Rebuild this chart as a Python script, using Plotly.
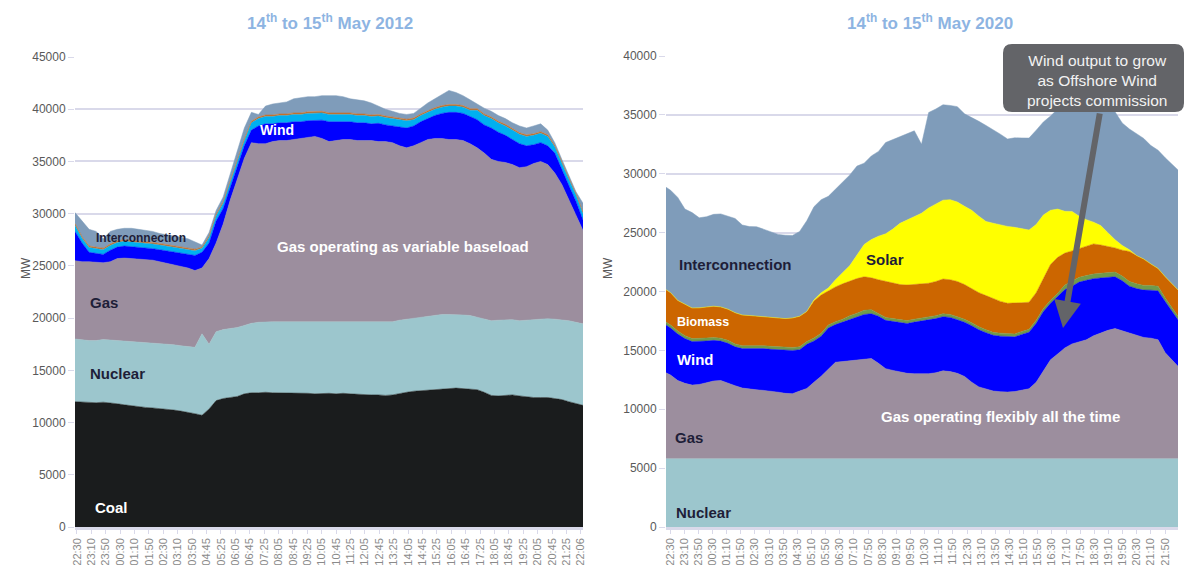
import plotly.graph_objects as go

# ---------------- DATA ----------------
times_2012 = ["21:50", "22:10", "22:30", "22:50", "23:10", "23:30", "23:50", "00:10", "00:30", "00:50",
              "01:10", "01:30", "01:50", "02:10", "02:30", "02:50", "03:10", "03:30", "03:50", "04:15",
              "04:45", "05:05", "05:25", "05:45", "06:05", "06:25", "06:45", "07:05", "07:25", "07:45",
              "08:05", "08:25", "08:45", "09:05", "09:25", "09:45", "10:05", "10:25", "10:45", "11:05",
              "11:25", "11:45", "12:05", "12:25", "12:45", "13:05", "13:25", "13:45", "14:05", "14:25",
              "14:45", "15:05", "15:25", "15:45", "16:05", "16:25", "16:45", "17:05", "17:25", "17:45",
              "18:05", "18:25", "18:45", "19:05", "19:25", "19:45", "20:05", "20:25", "20:45", "21:05",
              "21:25", "21:45", "22:06"]

coal_2012 = [12000, 11950, 11950, 11900, 11950, 11900, 11800, 11700, 11600, 11500,
             11450, 11400, 11350, 11300, 11200, 11100, 11000, 10850, 10700, 11300,
             12100, 12300, 12400, 12500, 12750, 12850, 12850, 12900, 12850, 12850,
             12800, 12800, 12850, 12800, 12750, 12800, 12800, 12750, 12800, 12750,
             12700, 12700, 12650, 12650, 12600, 12650, 12800, 12900, 13000, 13050,
             13150, 13200, 13250, 13300, 13300, 13250, 13200, 13150, 12900, 12600,
             12550, 12600, 12650, 12550, 12450, 12400, 12400, 12400, 12300, 12200,
             12000, 11800, 11650]
nuclear_2012 = [6000, 5950, 5900, 5950, 6000, 6000, 6050, 6100, 6200, 6200,
                6200, 6200, 6200, 6200, 6250, 6250, 6300, 6350, 7800, 6200,
                6600, 6600, 6600, 6600, 6550, 6650, 6750, 6750, 6800, 6800,
                6850, 6850, 6800, 6850, 6900, 6850, 6850, 6900, 6850, 6900,
                6950, 6950, 7000, 7000, 7050, 7000, 7000, 7000, 7000, 7050,
                7050, 7100, 7100, 7050, 7050, 7050, 7050, 6950, 7000, 7150,
                7250, 7250, 7200, 7200, 7350, 7500, 7550, 7550, 7600, 7650,
                7750, 7800, 7800]
gas_2012 = [7500, 7500, 7550, 7500, 7350, 7500, 7850, 7950, 7900, 7900,
            7950, 7950, 7850, 7750, 7650, 7600, 7500, 7350, 6300, 8200,
            8500, 10100, 12300, 14200, 16000, 17300, 17100, 17050, 17250, 17350,
            17350, 17450, 17550, 17650, 17750, 17550, 17250, 17350, 17450, 17450,
            17350, 17350, 17350, 17250, 17250, 17150, 16700, 16400, 16500, 16700,
            16900, 16900, 16850, 16750, 16750, 16700, 16450, 16200, 15900, 15450,
            15200, 15050, 14850, 14650, 14700, 14900, 15050, 14750, 14000, 12950,
            11550, 10300, 8950]
wind_2012 = [2800, 1800, 900, 850, 800, 1100, 1100, 1150, 1150, 1150,
             1100, 1100, 1150, 1200, 1250, 1300, 1350, 1450, 1500, 1500,
             2100, 1500, 1200, 1200, 1200, 1200, 1700, 1900, 1700, 1700,
             1700, 1700, 1600, 1600, 1500, 1750, 1900, 1800, 1650, 1700,
             1700, 1700, 1600, 1750, 1600, 1600, 1800, 1900, 1900, 2000,
             2000, 2200, 2400, 2600, 2600, 2600, 2600, 2700, 2700, 3000,
             2800, 2600, 2400, 2300, 2000, 1800, 1800, 1800, 1900, 1400,
             1400, 1300, 1000]
hydro_2012 = [600, 450, 450, 450, 450, 450, 450, 450, 450, 450,
              450, 450, 450, 450, 450, 450, 450, 450, 400, 500,
              500, 500, 500, 500, 500, 700, 700, 700, 700, 700,
              700, 700, 700, 700, 700, 700, 700, 700, 700, 700,
              700, 700, 700, 700, 700, 700, 700, 700, 600, 600,
              600, 600, 600, 600, 600, 600, 600, 900, 900, 900,
              900, 900, 900, 900, 900, 900, 900, 900, 600, 600,
              600, 600, 600]
biomass_2012 = [150, 150, 150, 150, 150, 150, 150, 150, 150, 150,
                150, 150, 150, 150, 150, 150, 150, 150, 100, 150,
                150, 150, 150, 150, 150, 150, 150, 150, 150, 150,
                150, 150, 150, 150, 150, 150, 150, 150, 150, 150,
                150, 150, 150, 150, 150, 150, 150, 150, 150, 150,
                150, 150, 150, 150, 150, 150, 150, 150, 150, 150,
                150, 150, 150, 150, 150, 150, 150, 150, 150, 150,
                150, 150, 150]
interconnection_2012 = [1050, 1500, 1600, 1500, 900, 1200, 1100, 1100, 1150, 1150,
                        1100, 1050, 950, 950, 950, 900, 850, 700, 200, 350,
                        350, 450, 650, 650, 1050, 850, 250, 850, 1050, 1050,
                        1150, 1350, 1450, 1450, 1450, 1500, 1650, 1650, 1600, 1350,
                        1350, 1250, 1150, 800, 650, 550, 450, 450, 450, 550,
                        750, 850, 1050, 1350, 1150, 950, 850, 450, 550, 550,
                        550, 550, 550, 650, 650, 750, 750, 450, 250, 250,
                        250, 150, 850]

times_2020 = ["22:10", "22:30", "22:50", "23:10", "23:30", "23:50", "00:10", "00:30", "00:50", "01:10",
              "01:30", "01:50", "02:10", "02:30", "02:50", "03:10", "03:30", "03:50", "04:10", "04:30",
              "04:50", "05:10", "05:30", "05:50", "06:10", "06:30", "06:50", "07:10", "07:30", "07:50",
              "08:10", "08:30", "08:50", "09:10", "09:30", "09:50", "10:10", "10:30", "10:50", "11:10",
              "11:30", "11:50", "12:10", "12:30", "12:50", "13:10", "13:30", "13:50", "14:10", "14:30",
              "14:50", "15:10", "15:30", "15:50", "16:10", "16:30", "16:50", "17:10", "17:30", "17:50",
              "18:10", "18:30", "18:50", "19:10", "19:30", "19:50", "20:10", "20:30", "20:50", "21:10",
              "21:30", "21:50", "22:10"]

nuclear_2020 = [5800, 5800, 5790, 5800, 5800, 5810, 5800, 5800, 5790, 5800,
                5800, 5800, 5810, 5800, 5800, 5790, 5800, 5800, 5800, 5800,
                5810, 5800, 5800, 5800, 5790, 5800, 5800, 5800, 5800, 5810,
                5800, 5800, 5800, 5790, 5800, 5800, 5800, 5800, 5800, 5810,
                5800, 5800, 5790, 5800, 5800, 5800, 5800, 5810, 5800, 5800,
                5800, 5790, 5800, 5800, 5800, 5800, 5810, 5800, 5800, 5800,
                5790, 5800, 5800, 5800, 5810, 5800, 5800, 5800, 5790, 5800,
                5800, 5800, 5800]
gas_2020 = [7400, 7100, 6650, 6400, 6250, 6300, 6450, 6600, 6650, 6450,
            6200, 6000, 5900, 5850, 5800, 5750, 5650, 5550, 5520, 5750,
            5950, 6500, 7000, 7600, 8200, 8250, 8300, 8350, 8450, 8500,
            8100, 7650, 7500, 7400, 7250, 7220, 7220, 7220, 7300, 7450,
            7400, 7250, 7000, 6500, 6100, 5900, 5750, 5680, 5660, 5700,
            5850, 5950, 6500, 7400, 8400, 8900, 9400, 9750, 9950, 10100,
            10450, 10700, 10900, 11050, 10850, 10650, 10450, 10300, 10250, 10100,
            9000, 8300, 7700]
wind_2020 = [4100, 4000, 3950, 3800, 3700, 3650, 3550, 3450, 3350, 3350,
             3300, 3350, 3450, 3500, 3550, 3550, 3600, 3650, 3680, 3500,
             3750, 3500, 3400, 3500, 3200, 3350, 3500, 3650, 3800, 3800,
             4000, 4100, 4150, 4150, 4230, 4380, 4480, 4530, 4600, 4600,
             4600, 4550, 4600, 4800, 4850, 4800, 4730, 4720, 4690, 4650,
             4700, 4800, 5000, 5100, 4800, 4900, 4950, 4900, 5050, 5050,
             4850, 4650, 4500, 4400, 4250, 4000, 4000, 4020, 4070, 4150,
             4350, 4200, 3900]
other_2020 = [250, 250, 250, 250, 250, 250, 250, 250, 250, 250,
              250, 250, 250, 250, 250, 250, 250, 250, 250, 250,
              250, 250, 250, 250, 250, 250, 350, 350, 350, 350,
              250, 250, 250, 250, 250, 250, 250, 250, 250, 250,
              250, 250, 250, 250, 250, 250, 250, 250, 250, 250,
              250, 250, 250, 250, 250, 250, 400, 400, 400, 400,
              400, 400, 400, 400, 400, 400, 400, 400, 400, 400,
              300, 300, 300]
biomass_2020 = [2750, 2750, 2600, 2650, 2600, 2600, 2650, 2650, 2650, 2650,
                2650, 2600, 2550, 2500, 2450, 2450, 2450, 2450, 2500, 2600,
                2550, 3150, 3250, 2900, 2950, 3000, 2950, 2950, 2850, 2700,
                2850, 3050, 3050, 3000, 3020, 2950, 2900, 2900, 2900, 2950,
                2950, 3000, 2950, 2900, 2900, 2900, 2870, 2700, 2600, 2600,
                2450, 2300, 2350, 2550, 3050, 3050, 2700, 2600, 2450, 2450,
                2550, 2400, 2250, 2050, 2200, 2550, 2400, 2230, 1830, 1500,
                1800, 2050, 2300]
solar_2020 = [0, 0, 0, 0, 0, 0, 0, 0, 0, 0,
              0, 0, 0, 0, 0, 0, 0, 0, 0, 0,
              0, 100, 200, 250, 600, 950, 1300, 2000, 2750, 3250,
              3700, 4050, 4550, 5200, 5550, 5800, 6000, 6400, 6550, 6700,
              6800, 6750, 6650, 6650, 6500, 6300, 6400, 6500, 6530, 6450,
              6300, 6130, 5800, 5400, 4600, 4100, 3550, 3350, 2750, 2300,
              1850, 1650, 1150, 700, 400, 150, 0, 0, 0, 0,
              0, 0, 0]
interconnection_2020 = [8700, 8700, 8750, 8100, 8100, 7650, 7650, 7800, 7900, 7900,
                        8000, 7650, 7550, 7600, 7450, 7300, 7100, 7080, 7010, 7200,
                        7700, 7900, 7900, 7780, 7700, 7700, 7700, 7550, 6900, 7100,
                        7200, 7750, 7600, 7300, 7300, 7250, 5850, 8100, 8100, 8100,
                        8000, 8100, 7850, 7900, 8050, 8150, 7950, 7700, 7420, 7600,
                        7690, 7810, 8000, 7900, 8000, 8500, 9400, 10000, 10800, 11300,
                        11300, 11200, 11200, 10800, 10400, 10250, 10350, 10250, 10050, 10050,
                        10100, 10150, 10200]

# ---------------- FIGURE ----------------
W, H = 1187, 565


def px(x):
    return x / W


def py(y):
    return 1 - y / H


FONT = "Liberation Sans, Arial, sans-serif"
GRID = "#D9D9EA"
TICKC = "#595959"
XTICKC = "#8A8A8A"

fig = go.Figure()

layers_2012 = [
    ("Coal", coal_2012, "#1A1C1D"),
    ("Nuclear", nuclear_2012, "#9CC6CD"),
    ("Gas", gas_2012, "#9C8E9E"),
    ("Wind", wind_2012, "#0000FF"),
    ("Hydro", hydro_2012, "#00B0F0"),
    ("Biomass", biomass_2012, "#C8702A"),
    ("Interconnection", interconnection_2012, "#7F9CBA"),
]
x12 = list(range(len(times_2012)))
for name, vals, col in layers_2012:
    fig.add_trace(go.Scatter(x=x12, y=vals, name=name, stackgroup="a", mode="lines",
                             line=dict(width=0.5, color=col), fillcolor=col,
                             xaxis="x", yaxis="y"))

layers_2020 = [
    ("Nuclear", nuclear_2020, "#9CC6CD"),
    ("Gas", gas_2020, "#9C8E9E"),
    ("Wind", wind_2020, "#0000FF"),
    ("Other", other_2020, "#6F9A4C"),
    ("Biomass", biomass_2020, "#CC6600"),
    ("Solar", solar_2020, "#FFFF00"),
    ("Interconnection", interconnection_2020, "#7F9CBA"),
]
x20 = list(range(len(times_2020)))
for name, vals, col in layers_2020:
    fig.add_trace(go.Scatter(x=x20, y=vals, name=name, stackgroup="b", mode="lines",
                             line=dict(width=0.5, color=col), fillcolor=col,
                             xaxis="x2", yaxis="y2"))


def spread(a, b, n):
    return [a + (b - a) * i / (n - 1) for i in range(n)]


labels_2012 = times_2012[2::2]
labels_2020 = times_2020[1::2]
# tick positions (axis units) placed evenly between the first and last label position
ticks_2012 = spread(0.28, 71.7, len(labels_2012))
ticks_2020 = spread(0.92, 69.97, len(labels_2020))

xax = dict(showgrid=False, zeroline=False, showline=True, linecolor=GRID, linewidth=2.5,
           ticks="outside", ticklen=4, tickcolor=GRID, tickangle=-90,
           tickfont=dict(size=11, color=XTICKC, family=FONT), automargin=False)
yax = dict(showgrid=True, gridcolor=GRID, gridwidth=1.5, zeroline=False, showline=False,
           ticks="outside", ticklen=6, tickcolor=GRID, dtick=5000, tickformat="d",
           tickfont=dict(size=12, color=TICKC, family=FONT), automargin=False)

fig.update_layout(
    width=W, height=565, margin=dict(l=0, r=0, t=0, b=0),
    template="none", paper_bgcolor="white", plot_bgcolor="white", showlegend=False,
    font=dict(family=FONT),
    xaxis=dict(xax, domain=[px(75), px(583)], range=[0, 72], anchor="y",
               tickvals=ticks_2012, ticktext=labels_2012),
    yaxis=dict(yax, domain=[py(527), py(57)], range=[0, 45000], anchor="x"),
    xaxis2=dict(xax, domain=[px(666), px(1178)], range=[0.36, 71.78], anchor="y2",
                tickvals=ticks_2020, ticktext=labels_2020),
    yaxis2=dict(yax, domain=[py(527), py(56)], range=[0, 40000], anchor="x2"),
)

ann = []


def label(text, x, y, size=15, color="#1E1E38", bold=True):
    ann.append(dict(text=("<b>%s</b>" % text) if bold else text, x=px(x), y=py(y),
                    xref="paper", yref="paper", showarrow=False, xanchor="center", yanchor="middle",
                    font=dict(size=size, color=color, family=FONT)))


TITLE = "#8DB4E2"
label("14<sup>th</sup> to 15<sup>th</sup> May 2012", 330, 22, 17, TITLE)
label("14<sup>th</sup> to 15<sup>th</sup> May 2020", 930, 22, 17, TITLE)

# left panel labels
label("Interconnection", 141, 238, 12)
label("Wind", 277, 130, 14, "white")
label("Gas operating as variable baseload", 403, 247, 15, "white")
label("Gas", 104, 302, 15)
label("Nuclear", 117, 373, 15)
label("Coal", 111, 507, 15, "white")

# right panel labels
label("Interconnection", 735, 264, 15)
label("Solar", 885, 259, 15)
label("Biomass", 703, 322, 12.5, "white")
label("Wind", 695, 359, 15, "white")
label("Gas operating flexibly all the time", 1001, 417, 15, "white")
label("Gas", 689, 437, 15)
label("Nuclear", 703, 512, 15)

# axis titles
for xx in (17, 608):
    ann.append(dict(text="MW", x=px(xx), y=py(268), xref="paper", yref="paper", showarrow=False,
                    textangle=-90, font=dict(size=12, color=TICKC, family=FONT)))

# callout arrow
BOX = "#636468"
ann.append(dict(text="", x=px(1063), y=py(328), xref="paper", yref="paper", showarrow=True,
                ax=37, ay=-216, arrowcolor=BOX, arrowwidth=6, arrowhead=2, arrowsize=0.9,
                standoff=0))
# callout text
ann.append(dict(text="Wind output to grow<br>as Offshore Wind<br>projects commission",
                x=px(1097), y=py(80), xref="paper", yref="paper", showarrow=False,
                xanchor="center", yanchor="middle", align="center",
                font=dict(size=15.5, color="#F2F2F2", family=FONT)))

# rounded callout box
x0, x1, y0, y1, r = 1003, 1184, 44, 112, 9
path = ("M {a},{b} L {c},{b} Q {d},{b} {d},{e} L {d},{f} Q {d},{g} {c},{g} "
        "L {a},{g} Q {h},{g} {h},{f} L {h},{e} Q {h},{b} {a},{b} Z").format(
    a=px(x0 + r), b=py(y0), c=px(x1 - r), d=px(x1), e=py(y0 + r), f=py(y1 - r),
    g=py(y1), h=px(x0))
fig.update_layout(annotations=ann,
                  shapes=[dict(type="path", path=path, xref="paper", yref="paper",
                               fillcolor=BOX, line=dict(width=0), layer="above")])

fig.write_html("out.html", config={"displayModeBar": False},
               post_script="document.body.style.margin='0px';document.body.style.overflow='hidden';")
